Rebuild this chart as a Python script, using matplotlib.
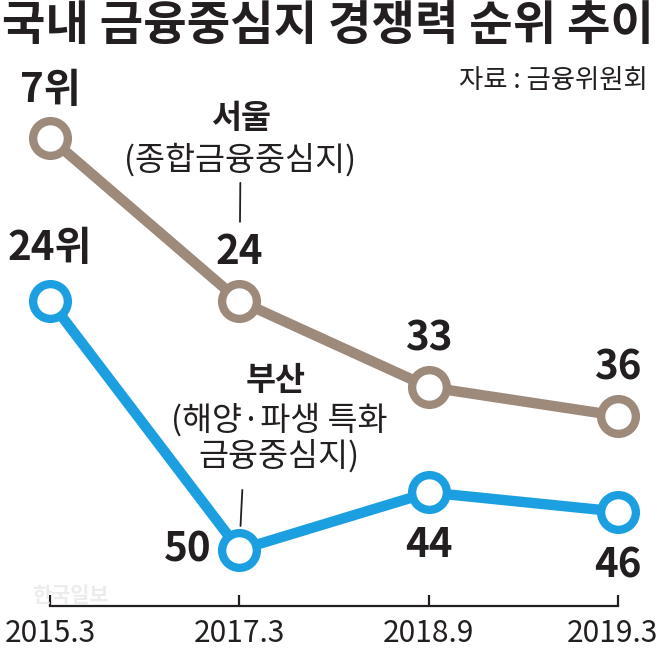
import matplotlib
matplotlib.use("Agg")
import matplotlib.pyplot as plt
from matplotlib.transforms import ScaledTranslation

plt.rcParams['font.family'] = ['Noto Sans CJK KR', 'DejaVu Sans']

# ---- data ----
periods = ["2015.3", "2017.3", "2018.9", "2019.3"]
seoul = [7, 24, 33, 36]
busan = [24, 50, 44, 46]
seoul_labels = ["7위", "24", "33", "36"]
busan_labels = ["24위", "50", "44", "46"]
title = "국내 금융중심지 경쟁력 순위 추이"
source = "자료 : 금융위원회"
seoul_name = ["서울", "(종합금융중심지)"]
busan_name = ["부산", "(해양·파생 특화", "금융중심지)"]

# ---- style ----
SEOUL_C = "#9d8a7b"
BUSAN_C = "#1b9fe0"
DARK = "#231f20"

W, H = 661, 657
fig = plt.figure(figsize=(W / 100, H / 100), dpi=100)
fig.patch.set_facecolor("white")

axis_y = 606
ax = fig.add_axes([0, (H - axis_y) / H, 1, axis_y / H])
x = list(range(len(periods)))

px_per_rank = 9.58
y_ref_px, r_ref = 138, 7
ax.set_ylim(r_ref + (axis_y - y_ref_px) / px_per_rank, r_ref - y_ref_px / px_per_rank)
ax.set_xlim(-50 / 189.5, 3 + 43 / 189.5)

for vals, c in [(seoul, SEOUL_C), (busan, BUSAN_C)]:
    ax.plot(x, vals, color=c, lw=7.5, zorder=2, solid_capstyle="round")
    ax.plot(x, vals, ls="none", marker="o", ms=25, mfc="white", mec=c, mew=6, zorder=3)

lab_fs = 29
# Seoul value labels (above)
for i, (v, t) in enumerate(zip(seoul, seoul_labels)):
    ax.annotate(t, xy=(i, v), xytext=(0, 48), textcoords="offset pixels",
                ha="center", va="center", fontsize=lab_fs, fontweight="bold", color=DARK)
# Busan value labels
busan_offsets = [(0, 52), (-52, 0), (0, -53), (0, -54)]
for i, (v, t) in enumerate(zip(busan, busan_labels)):
    ax.annotate(t, xy=(i, v), xytext=busan_offsets[i], textcoords="offset pixels",
                ha="center", va="center", fontsize=lab_fs, fontweight="bold", color=DARK)

# Series name annotations near 2017.3
name_fs = 23.5
ax.annotate(seoul_name[0], xy=(1, seoul[1]), xytext=(2, 182), textcoords="offset pixels",
            ha="center", va="center", fontsize=name_fs, fontweight="bold", color=DARK)
ax.annotate(seoul_name[1], xy=(1, seoul[1]), xytext=(1, 141), textcoords="offset pixels",
            ha="center", va="center", fontsize=name_fs, color=DARK)
ax.annotate("", xy=(1, seoul[1]), xytext=(1, 118), textcoords="offset pixels",
            arrowprops=dict(arrowstyle="-", color=DARK, lw=1.3, shrinkA=0, shrinkB=79 * 0.72))

ax.annotate(busan_name[0], xy=(1, busan[1]), xytext=(36, 169), textcoords="offset pixels",
            ha="center", va="center", fontsize=name_fs, fontweight="bold", color=DARK)
ax.annotate(busan_name[1], xy=(1, busan[1]), xytext=(40, 130), textcoords="offset pixels",
            ha="center", va="center", fontsize=name_fs, color=DARK)
ax.annotate(busan_name[2], xy=(1, busan[1]), xytext=(40, 94), textcoords="offset pixels",
            ha="center", va="center", fontsize=name_fs, color=DARK)
ax.annotate("", xy=(1, busan[1]), xytext=(3, 60), textcoords="offset pixels",
            arrowprops=dict(arrowstyle="-", color=DARK, lw=1.3, shrinkA=0, shrinkB=24 * 0.72))

# axis styling
for s in ["top", "left", "right"]:
    ax.spines[s].set_visible(False)
ax.spines["bottom"].set_bounds(0, 3)
ax.spines["bottom"].set_linewidth(1.6)
ax.spines["bottom"].set_color(DARK)
ax.set_yticks([])
ax.set_xticks(x)
ax.set_xticklabels(periods, fontsize=21.5, color=DARK)
ax.tick_params(axis="x", direction="in", length=8, width=1.6, color=DARK, pad=9)
ax.patch.set_alpha(0)
# keep the last period label inside the figure edge
last = ax.get_xticklabels()[-1]
last.set_transform(last.get_transform() + ScaledTranslation(-0.06, 0, fig.dpi_scale_trans))

# title and source
fig.text(0.003, 1 - 26 / H, title, fontsize=34, fontweight="black", color=DARK,
         ha="left", va="center")
fig.text(648 / W, 1 - 80 / H, source, fontsize=19, fontweight="light", color=DARK,
         ha="right", va="center")
# watermark
fig.text(70 / W, 1 - 596 / H, "한국일보", fontsize=15, fontweight="bold", color="#ececec",
         ha="center", va="center", zorder=0)

fig.savefig("out.png", dpi=100, facecolor="white")
